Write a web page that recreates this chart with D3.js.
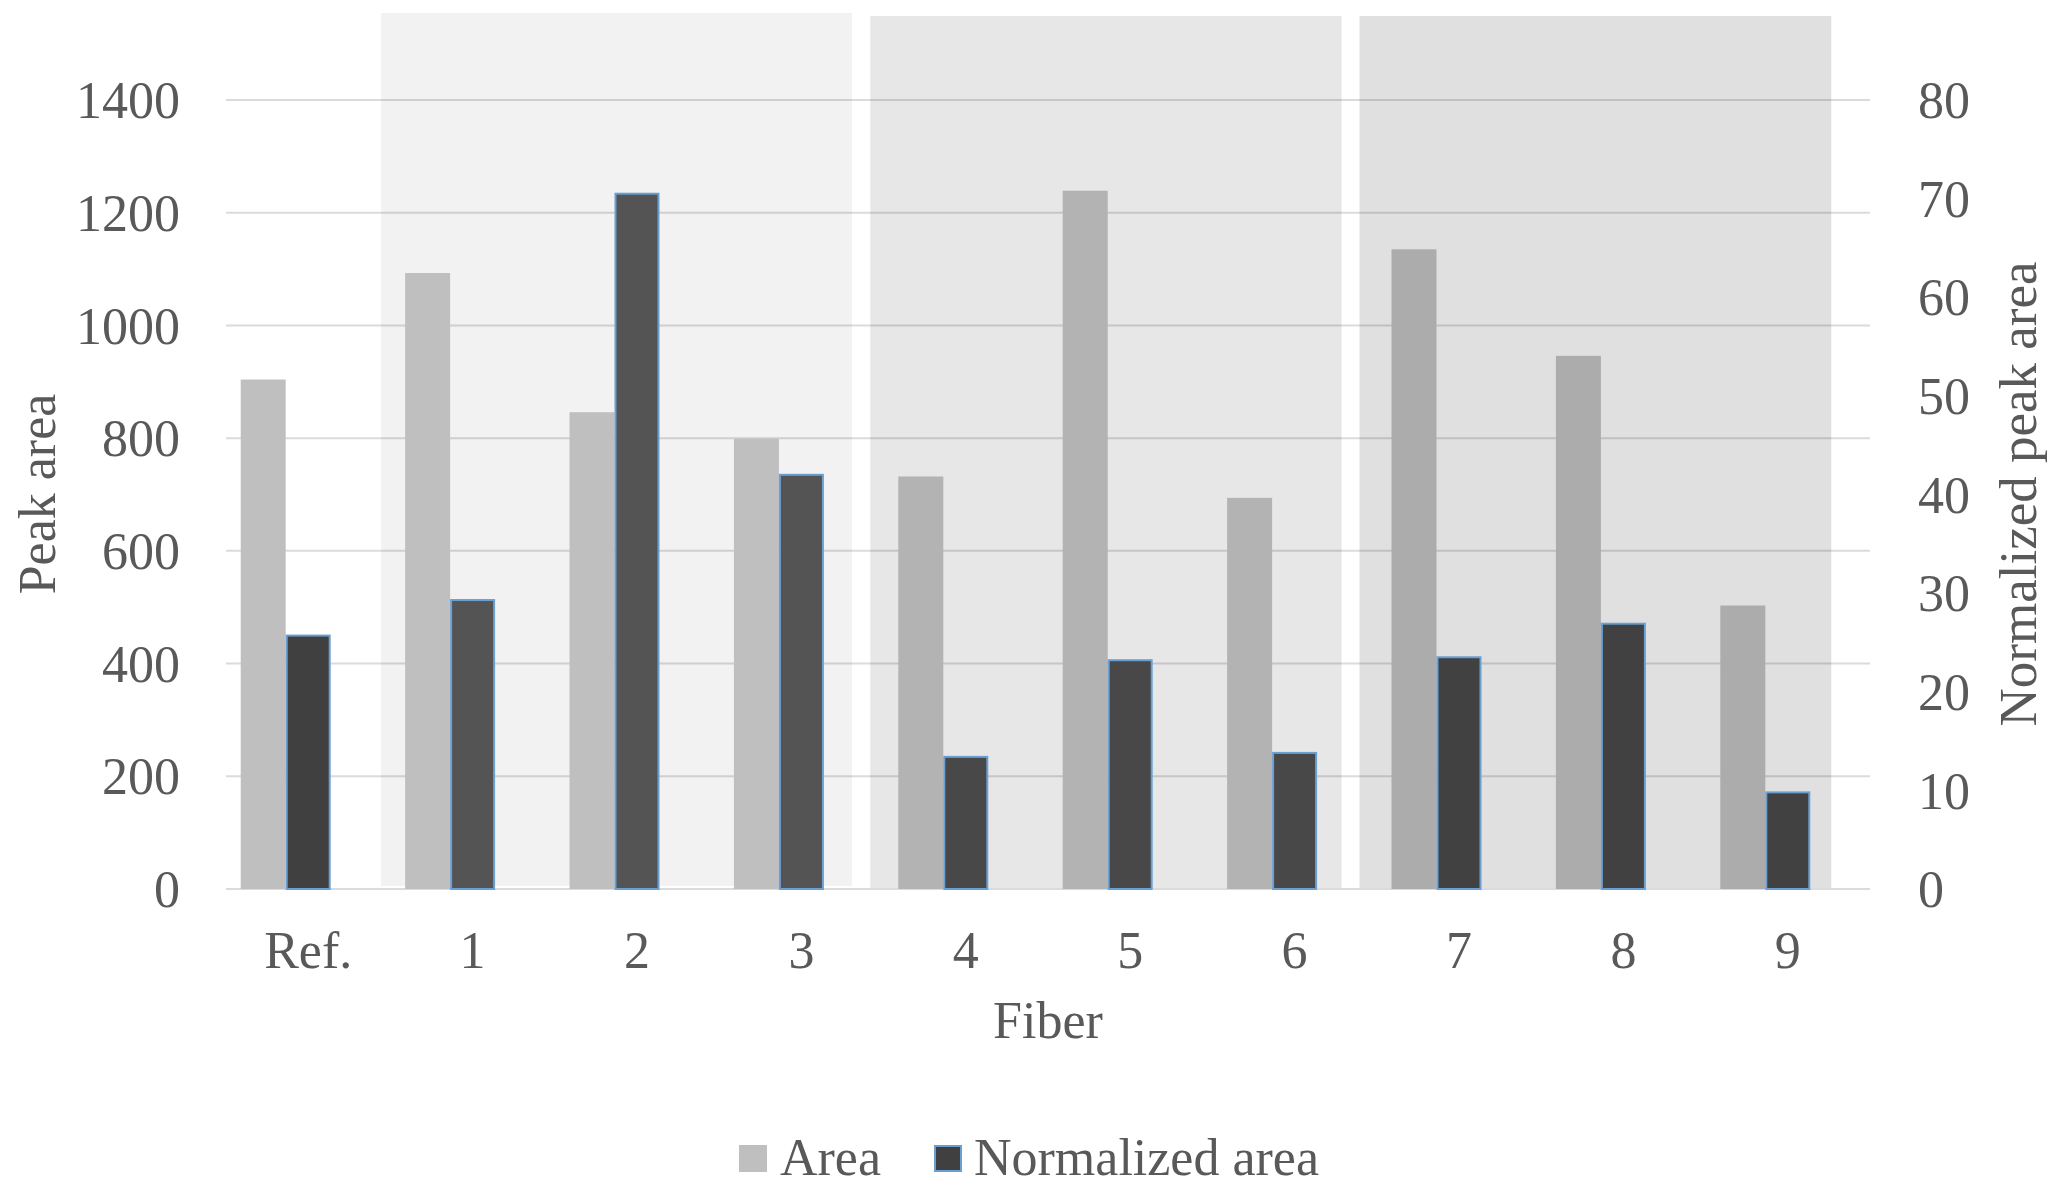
<!DOCTYPE html>
<html>
<head>
<meta charset="utf-8">
<script src="https://cdn.jsdelivr.net/npm/d3@7"></script>
<style>
  body { margin: 0; background: #fff; }
  svg text { font-family: "Liberation Serif", "Times New Roman", serif; fill: #595959; }
</style>
</head>
<body>
<div id="chart"></div>
<script>
// data
var fibers = ["Ref.", "1", "2", "3", "4", "5", "6", "7", "8", "9"];
var area = [904, 1093, 846, 799, 732, 1239, 694, 1135, 946, 503];
var normArea = [25.8, 29.4, 70.6, 42.1, 13.5, 23.3, 13.9, 23.6, 27.0, 9.9];
var leftTicks = [0, 200, 400, 600, 800, 1000, 1200, 1400];
var rightTicks = [0, 10, 20, 30, 40, 50, 60, 70, 80];
// shaded groups of fibers
var groups = [["1", "3"], ["4", "6"], ["7", "9"]];
var groupOf = [-1, 0, 0, 0, 1, 1, 1, 2, 2, 2];

var bgColor = ["#f2f2f2", "#e7e7e7", "#e0e0e0"];
var areaColor = ["#bfbfbf", "#b3b3b3", "#acacac"];
var normColor = ["#545454", "#484848", "#414141"];

var W = 2059, H = 1197;
var plotLeft = 226, plotRight = 1870, plotTop = 100, plotBottom = 889;

var svg = d3.select("#chart").append("svg")
    .attr("width", W).attr("height", H);

var x = d3.scaleBand().domain(fibers).range([plotLeft, plotRight])
    .paddingInner(0.179).paddingOuter(0.0895);
// third empty slot like the excel chart
var xs = d3.scaleBand().domain(["area", "norm", "none"]).range([0, x.bandwidth()]);
var yL = d3.scaleLinear().domain([0, 1400]).range([plotBottom, plotTop]);
var yR = d3.scaleLinear().domain([0, 80]).range([plotBottom, plotTop]);

// background boxes
function bgStart(d, i){ return x(d[0]) - 24 - 4 * i; }
function bgEnd(d, i){ return x(d[1]) + x.bandwidth() - 17 - 3.5 * i; }
svg.append("g").selectAll("rect").data(groups).enter().append("rect")
    .attr("x", bgStart)
    .attr("y", function(d, i){ return i == 0 ? 13 : 16; })
    .attr("width", function(d, i){ return bgEnd(d, i) - bgStart(d, i); })
    .attr("height", function(d, i){ return (i == 0 ? 886 : 888) - (i == 0 ? 13 : 16); })
    .style("fill", function(d, i){ return bgColor[i]; });

// gridlines
svg.append("g").selectAll("line").data(leftTicks).enter().append("line")
    .attr("x1", plotLeft).attr("x2", plotRight)
    .attr("y1", function(d){ return yL(d); })
    .attr("y2", function(d){ return yL(d); })
    .style("stroke", "#000").style("stroke-opacity", 0.14).style("stroke-width", 2);

// area bars
svg.append("g").selectAll("rect").data(area).enter().append("rect")
    .attr("x", function(d, i){ return x(fibers[i]) + xs("area"); })
    .attr("y", function(d){ return yL(d); })
    .attr("width", xs.bandwidth())
    .attr("height", function(d){ return yL(0) - yL(d); })
    .style("fill", function(d, i){ return groupOf[i] < 0 ? "#bfbfbf" : areaColor[groupOf[i]]; });

// normalized bars
svg.append("g").selectAll("rect").data(normArea).enter().append("rect")
    .attr("x", function(d, i){ return x(fibers[i]) + xs("norm") + 1; })
    .attr("y", function(d){ return yR(d) + 1; })
    .attr("width", xs.bandwidth() - 2)
    .attr("height", function(d){ return yR(0) - yR(d) - 1; })
    .style("fill", function(d, i){ return groupOf[i] < 0 ? "#404040" : normColor[groupOf[i]]; })
    .style("stroke", "#6a9fd3").style("stroke-width", 2);

// left axis labels
svg.append("g").selectAll("text").data(leftTicks).enter().append("text")
    .attr("x", 180).attr("y", function(d){ return yL(d); })
    .attr("dy", "0.35em").attr("text-anchor", "end")
    .style("font-size", "52px").text(function(d){ return d; });

// right axis labels
svg.append("g").selectAll("text").data(rightTicks).enter().append("text")
    .attr("x", 1918).attr("y", function(d){ return yR(d); })
    .attr("dy", "0.35em").attr("text-anchor", "start")
    .style("font-size", "52px").text(function(d){ return d; });

// x labels
svg.append("g").selectAll("text").data(fibers).enter().append("text")
    .attr("x", function(d){ return x(d) + x.bandwidth() / 2; })
    .attr("y", 968).attr("text-anchor", "middle")
    .style("font-size", "52px").text(function(d){ return d; });

// axis titles
svg.append("text").attr("x", (plotLeft + plotRight) / 2).attr("y", 1038)
    .attr("text-anchor", "middle").style("font-size", "52px").text("Fiber");
svg.append("text").attr("transform", "translate(55,494) rotate(-90)")
    .attr("text-anchor", "middle").style("font-size", "52px").text("Peak area");
svg.append("text").attr("transform", "translate(2036,494) rotate(-90)")
    .attr("text-anchor", "middle").style("font-size", "53px").text("Normalized peak area");

// legend
svg.append("rect").attr("x", 739).attr("y", 1145).attr("width", 28).attr("height", 27)
    .style("fill", "#bfbfbf");
svg.append("text").attr("x", 780).attr("y", 1175).style("font-size", "52px").text("Area");
svg.append("rect").attr("x", 935).attr("y", 1146).attr("width", 26).attr("height", 25)
    .style("fill", "#404040").style("stroke", "#6a9fd3").style("stroke-width", 2);
svg.append("text").attr("x", 974).attr("y", 1175).style("font-size", "52px").text("Normalized area");
</script>
</body>
</html>
